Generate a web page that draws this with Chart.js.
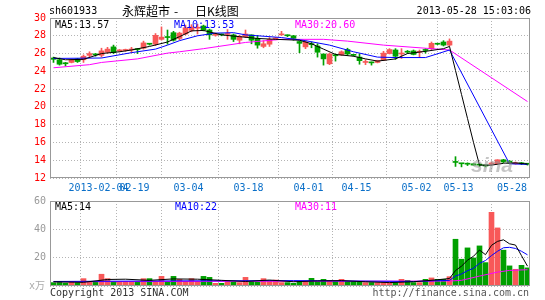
<!DOCTYPE html>
<html>
<head>
<meta charset="utf-8">
<script src="https://cdn.jsdelivr.net/npm/chart.js@4"></script>
<style>
  html, body { margin: 0; padding: 0; background: #fff; }
  #wrap { position: relative; width: 545px; height: 300px; }
  #wrap canvas { position: absolute; left: 0; top: 0; }
</style>
</head>
<body>
<div id="wrap">
  <canvas id="kline" width="545" height="300"></canvas>
  <canvas id="vol" width="545" height="300"></canvas>
</div>
<script>
// trading days shown, one slot each
const dates = ['01-23','01-24','01-25','01-28','01-29','01-30','01-31','02-01','02-04','02-05',
  '02-06','02-07','02-08','02-18','02-19','02-20','02-21','02-22','02-25','02-26',
  '02-27','02-28','03-01','03-04','03-05','03-06','03-07','03-08','03-11','03-12',
  '03-13','03-14','03-15','03-18','03-19','03-20','03-21','03-22','03-25','03-26',
  '03-27','03-28','03-29','04-01','04-02','04-03','04-08','04-09','04-10','04-11',
  '04-12','04-15','04-16','04-17','04-18','04-19','04-22','04-23','04-24','04-25',
  '04-26','05-02','05-03','05-06','05-07','05-08','05-09','05-10','05-13','05-14',
  '05-15','05-16','05-17','05-20','05-21','05-22','05-23','05-24','05-27','05-28'];

const open = [25.5,25.3,24.95,25.0,25.4,25.3,25.8,25.9,25.8,26.15,
  26.75,26.3,26.35,26.4,26.5,26.6,27.1,27.05,27.6,27.85,
  28.35,27.7,28.2,28.6,28.85,29.1,28.65,28.05,28.15,28.15,
  28.1,27.5,27.9,28.1,27.7,26.8,27.05,27.65,28.1,28.05,
  28.0,27.35,26.75,27.05,26.85,25.95,24.85,25.8,25.85,26.45,
  25.85,25.6,25.0,25.0,25.0,25.25,26.0,26.4,25.95,26.2,
  26.3,26.15,26.4,26.55,27.1,27.3,26.95,13.8,13.62,13.58,
  13.6,13.47,13.37,13.58,13.6,14.05,13.9,13.6,13.7,13.6];
const close = [25.35,24.8,24.85,25.3,25.1,25.7,26.0,25.85,26.3,26.5,
  26.1,26.35,26.45,26.45,26.45,27.2,27.05,28.05,27.85,27.8,
  27.5,28.3,28.9,29.0,28.9,28.65,28.1,28.15,28.1,28.2,
  27.6,27.95,28.2,27.5,26.95,27.1,27.6,27.7,28.2,28.0,
  27.7,27.15,27.3,27.0,26.15,25.4,25.95,25.75,26.2,25.95,
  25.8,25.2,25.05,24.95,25.2,26.05,26.45,25.7,26.0,26.15,
  25.9,26.2,26.35,27.15,27.05,26.95,27.4,13.75,13.6,13.55,
  13.45,13.45,13.35,13.6,14.05,13.8,13.7,13.7,13.6,13.55];
const high = [25.6,25.5,25.0,25.35,25.45,25.85,26.2,26.0,26.6,26.7,
  26.95,26.45,26.5,26.7,26.55,27.4,27.15,28.25,29.0,28.65,
  28.5,28.4,29.2,29.25,29.3,29.2,28.75,28.3,28.2,28.7,
  28.2,28.05,28.65,28.1,28.05,27.45,27.8,27.8,28.5,28.1,
  28.05,27.4,27.45,27.3,27.1,25.95,26.05,25.95,26.3,26.6,
  25.9,25.95,25.3,25.05,25.25,26.25,26.55,26.55,26.55,26.35,
  26.4,26.4,26.55,27.3,27.15,27.45,27.65,14.4,13.62,13.7,
  13.62,13.6,13.45,13.8,14.05,14.1,13.95,13.8,13.75,13.65];
const low = [25.0,24.7,24.6,24.95,25.0,25.0,25.6,25.7,25.6,26.05,
  26.0,26.2,26.25,26.1,26.0,26.5,26.95,26.9,27.5,27.05,
  27.4,27.55,28.1,28.45,28.2,28.55,27.6,27.95,28.0,27.6,
  27.35,27.1,27.8,27.1,26.6,26.65,26.8,27.55,28.05,27.9,
  27.5,26.1,26.55,26.65,25.6,24.7,24.75,25.15,25.8,25.8,
  25.7,24.8,24.75,24.7,24.95,25.2,25.95,25.35,25.45,26.0,
  25.85,25.55,26.05,26.45,27.0,26.85,26.85,13.3,13.25,13.4,
  13.45,13.3,13.25,13.5,13.55,13.65,13.6,13.55,13.5,13.45];

// volume in 10k shares (x万)
const volume = [2.4,3.3,2.1,2.8,2.4,5.2,3.3,2.8,8.3,5.2,
  3.3,3.3,3.3,3.3,3.3,5.2,5.2,3.3,6.8,3.3,
  6.8,4.7,3.3,5.2,3.3,6.8,6.1,1.9,1.9,3.3,
  2.8,2.4,6.1,3.3,2.8,5.2,3.8,4.2,2.4,2.4,
  1.9,3.3,3.3,5.4,3.3,4.7,4.0,3.3,4.7,3.3,
  3.3,2.8,2.4,2.4,2.4,2.4,2.4,2.4,4.7,4.0,
  2.4,2.4,4.7,5.7,4.7,4.7,6.6,33,18.9,26.9,
  19.8,28.3,16.5,52,41,25.3,14.2,11.8,14.6,12.8];

// moving average lines, [day index, value]
const ma5 = [[0,25.55],[2,25.3],[5,25.35],[8,26.0],[11,26.2],[13,26.4],[16,26.8],[19,27.3],
  [21,27.9],[23,28.55],[25,28.6],[28,28.1],[31,27.9],[34,27.7],[37,27.6],[41,27.5],[43,27.1],
  [45,26.5],[47,25.9],[50,25.7],[52,25.4],[54,25.15],[57,25.4],[59,26.0],[62,26.25],[65,26.55],
  [66,26.8],[67,24.1],[68,21.4],[69,18.7],[70,16.0],[71,13.45],[73,13.45],[75,13.65],[77,13.7],[79,13.57]];
const ma10 = [[0,25.45],[8,25.5],[13,26.1],[17,26.5],[19,26.95],[21,27.45],[24,28.0],[27,28.3],
  [30,28.35],[32,28.1],[38,27.8],[42,27.45],[46,26.95],[50,26.2],[54,25.6],[57,25.55],[62,25.55],
  [66,26.4],[76,13.6],[79,13.53]];
const ma30 = [[0,24.4],[6,24.75],[8,25.0],[14,25.4],[19,26.05],[21,26.2],[25,26.55],[32,27.25],
  [38,27.6],[45,27.6],[49,27.4],[55,26.95],[62,26.6],[66,26.4],[79,20.6]];

const volMa5 = [[0,3.0],[5,2.6],[9,4.6],[12,4.8],[16,4.0],[20,5.0],[24,4.8],[28,4.0],[32,3.2],
  [36,4.2],[40,3.0],[44,3.6],[48,3.8],[52,3.0],[56,2.4],[60,3.0],[64,4.4],[66,5.3],[67,10.9],
  [68,14.0],[69,18.2],[70,21.0],[71,25.4],[72,22.1],[73,28.7],[74,31.5],[75,32.6],[76,29.8],
  [77,28.9],[78,21.4],[79,14]];
const volMa10 = [[0,3.2],[20,3.6],[40,3.8],[60,3.2],[66,4.0],[67,7],[68,8.5],[69,10.8],[70,12.5],
  [71,16],[72,18],[73,21.5],[74,24.5],[75,27],[76,27.3],[77,26.5],[78,24.5],[79,22]];
const volMa30 = [[0,3.0],[30,3.3],[66,3.5],[68,4],[71,7],[74,9.8],[76,11],[79,11.5]];

const tickIdx = [8,14,23,33,43,51,61,68,79];
const tickText = ['2013-02-04','02-19','03-04','03-18','04-01','04-15','05-02','05-13','05-28'];

const UP = '#f85858';
const DOWN = '#00a000';
const MONO = '"DejaVu Sans Mono", monospace';
const GRID = '#b4b4b4';

Chart.defaults.animation = false;
Chart.defaults.font.family = MONO;
Chart.defaults.font.size = 10;

const colors = open.map((o, i) => close[i] >= o ? UP : DOWN);
const pts = arr => arr.map(p => ({ x: p[0], y: p[1] }));

function lineSet(data, color) {
  return {
    type: 'line', data: pts(data), borderColor: color, borderWidth: 1,
    pointRadius: 0, tension: 0, fill: false
  };
}

function xAxis() {
  return {
    type: 'linear', min: -0.5 - 1 / 12, max: 79.5 - 1 / 12, offset: false,
    afterBuildTicks: s => { s.ticks = tickIdx.map(i => ({ value: i - 0.5 })); },
    afterFit: s => { s.height = 0; },
    ticks: { display: false },
    grid: { color: GRID, drawTicks: false },
    border: { display: false, dash: [1, 2] }
  };
}

function text(ctx, s, x, y, color, align, font) {
  ctx.save();
  ctx.font = font || '10px ' + MONO;
  ctx.fillStyle = color;
  ctx.textAlign = align || 'left';
  ctx.textBaseline = 'middle';
  ctx.fillText(s, x, y);
  ctx.restore();
}

function frame(chart) {
  const a = chart.chartArea, ctx = chart.ctx;
  ctx.save();
  ctx.strokeStyle = '#999';
  ctx.lineWidth = 1;
  ctx.strokeRect(a.left + 0.5, a.top + 0.5, a.right - a.left - 1, a.bottom - a.top - 1);
  ctx.restore();
}

const klineDecor = {
  id: 'klineDecor',
  afterDatasetsDraw(chart) {
    text(chart.ctx, 'sina', 471, 166, 'rgba(150,150,150,0.55)', 'left', 'italic bold 21px "Liberation Sans"');
  },
  afterDraw(chart) {
    const ctx = chart.ctx, a = chart.chartArea, xs = chart.scales.x;
    const cjk = '12px "Noto Sans CJK SC"';
    frame(chart);
    text(ctx, 'sh601933', 49, 11, '#000');
    text(ctx, '永辉超市', 122, 11, '#000', 'left', cjk);
    text(ctx, '-', 176, 11, '#000', 'center', cjk);
    text(ctx, '日K线图', 195, 11, '#000', 'left', cjk);
    text(ctx, '2013-05-28 15:03:06', 531, 11, '#000', 'right');
    text(ctx, 'MA5:13.57', 55, 25, '#000');
    text(ctx, 'MA10:13.53', 174, 25, '#0000ff');
    text(ctx, 'MA30:20.60', 295, 25, '#ff00ff');
    ctx.save();
    ctx.font = '10px ' + MONO;
    tickIdx.forEach((idx, k) => {
      const w = ctx.measureText(tickText[k]).width;
      let c = xs.getPixelForValue(idx - 0.5);
      if (c + w / 2 > a.right - 3) c = a.right - 3 - w / 2;
      text(ctx, tickText[k], c, 188, '#0a6fc8', 'center');
    });
    ctx.restore();
  }
};

const volDecor = {
  id: 'volDecor',
  afterDraw(chart) {
    const ctx = chart.ctx;
    frame(chart);
    text(ctx, 'MA5:14', 55, 207, '#000');
    text(ctx, 'MA10:22', 175, 207, '#0000ff');
    text(ctx, 'MA30:11', 295, 207, '#ff00ff');
    text(ctx, 'x万', 29, 286, '#aaa', 'left', '10px ' + MONO + ', "Noto Sans CJK SC"');
    text(ctx, 'Copyright 2013 SINA.COM', 50, 293, '#333');
    text(ctx, 'http://finance.sina.com.cn', 529, 293, '#555', 'right');
  }
};

new Chart(document.getElementById('kline'), {
  type: 'bar',
  data: {
    datasets: [
      lineSet(ma5, '#000000'),
      lineSet(ma10, '#0000ff'),
      lineSet(ma30, '#ff00ff'),
      {
        data: dates.map((d, i) => ({ x: i, y: [open[i], close[i]] })),
        backgroundColor: colors, grouped: false,
        barThickness: 5, maxBarThickness: 5, minBarLength: 1
      },
      {
        data: dates.map((d, i) => ({ x: i, y: [low[i], high[i]] })),
        backgroundColor: colors, grouped: false,
        barThickness: 1, maxBarThickness: 1, minBarLength: 1
      }
    ]
  },
  options: {
    responsive: false,
    events: [],
    layout: { padding: { top: 18, right: 15, bottom: 122, left: 0 } },
    plugins: { legend: { display: false }, tooltip: { enabled: false } },
    scales: {
      x: xAxis(),
      y: {
        min: 12, max: 30,
        afterFit: s => { s.width = 50; },
        ticks: { stepSize: 2, color: '#ff0000', padding: 4 },
        grid: { color: GRID, drawTicks: false },
        border: { display: false, dash: [1, 2] }
      }
    }
  },
  plugins: [klineDecor]
});

new Chart(document.getElementById('vol'), {
  type: 'bar',
  data: {
    datasets: [
      lineSet(volMa5, '#000000'),
      lineSet(volMa10, '#0000ff'),
      lineSet(volMa30, '#ff00ff'),
      {
        data: dates.map((d, i) => ({ x: i, y: volume[i] })),
        backgroundColor: colors, grouped: false,
        barThickness: 5, maxBarThickness: 5
      }
    ]
  },
  options: {
    responsive: false,
    events: [],
    layout: { padding: { top: 201, right: 15, bottom: 14, left: 0 } },
    plugins: { legend: { display: false }, tooltip: { enabled: false } },
    scales: {
      x: xAxis(),
      y: {
        min: 0, max: 60,
        afterFit: s => { s.width = 50; },
        ticks: { stepSize: 20, color: '#999', padding: 4, callback: v => v === 0 ? '' : v },
        grid: { color: GRID, drawTicks: false },
        border: { display: false, dash: [1, 2] }
      }
    }
  },
  plugins: [volDecor]
});
</script>
</body>
</html>
